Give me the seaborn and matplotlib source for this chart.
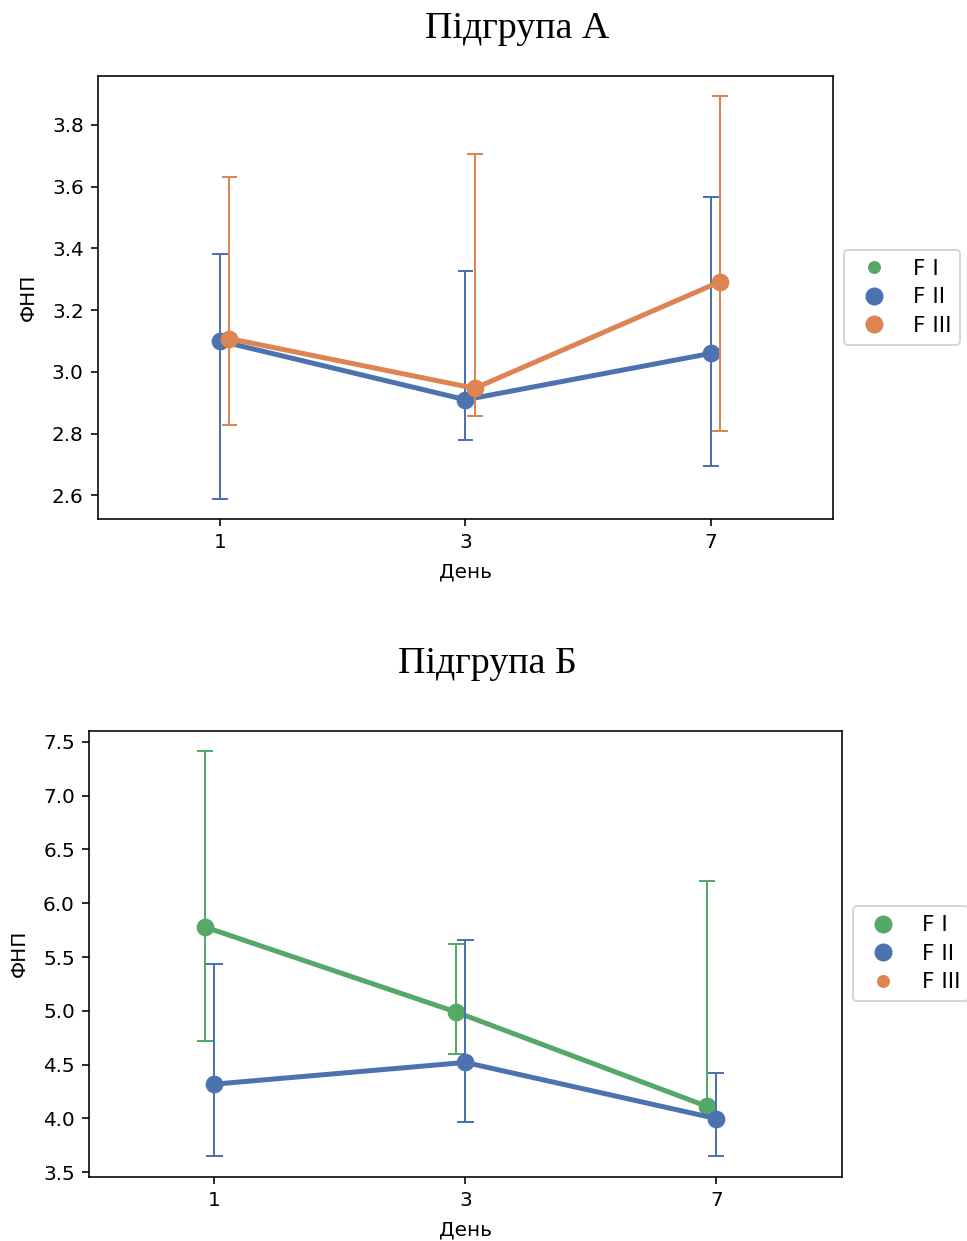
import numpy as np
import pandas as pd
import matplotlib
matplotlib.use("Agg")
import matplotlib.pyplot as plt
from matplotlib.lines import Line2D
import seaborn as sns

# ---- data ----
days = ["1", "3", "7"]
hue_levels = ["F I", "F II", "F III"]

# Підгрупа А
a_f2_mean = [3.10, 2.91, 3.06]
a_f2_low = [2.59, 2.78, 2.695]
a_f2_high = [3.383, 3.326, 3.567]
a_f3_mean = [3.108, 2.947, 3.292]
a_f3_low = [2.828, 2.856, 2.81]
a_f3_high = [3.632, 3.705, 3.893]

# Підгрупа Б
b_f1_mean = [5.779, 4.989, 4.112]
b_f1_low = [4.719, 4.60, 4.08]
b_f1_high = [7.416, 5.617, 6.204]
b_f2_mean = [4.318, 4.52, 3.998]
b_f2_low = [3.653, 3.966, 3.646]
b_f2_high = [5.434, 5.657, 4.418]

colors = {"F I": "#55A868", "F II": "#4C72B0", "F III": "#DD8452"}

titles = ["Підгрупа А", "Підгрупа Б"]
xlabel = "День"
ylabel = "ФНП"


def long_frame(series):
    rows = []
    for name, mean, low, high in series:
        for d, m, lo, hi in zip(days, mean, low, high):
            for v in (lo, m, hi):
                rows.append({"День": d, "ФНП": v, "F": name})
    return pd.DataFrame(rows)


df_a = long_frame([("F II", a_f2_mean, a_f2_low, a_f2_high),
                   ("F III", a_f3_mean, a_f3_low, a_f3_high)])
df_b = long_frame([("F I", b_f1_mean, b_f1_low, b_f1_high),
                   ("F II", b_f2_mean, b_f2_low, b_f2_high)])

W, H = 967, 1241
dpi = 144
fig = plt.figure(figsize=(W / dpi, H / dpi), dpi=dpi)

ax_a = fig.add_axes([97.7 / W, 1 - 518.7 / H, 735.6 / W, 442.7 / H])
ax_b = fig.add_axes([89.0 / W, 1 - 1176.7 / H, 752.7 / W, 446.0 / H])

for ax, df, present in [(ax_a, df_a, ["F II", "F III"]),
                        (ax_b, df_b, ["F I", "F II"])]:
    sns.pointplot(data=df, x="День", y="ФНП", hue="F", order=days,
                  hue_order=hue_levels, palette=colors,
                  estimator="median", errorbar=("pi", 100),
                  dodge=True, capsize=0.057,
                  err_kws={"linewidth": 1.0},
                  markersize=7, linewidth=2.5,
                  legend=False, ax=ax)
    ax.set_xlabel(xlabel, fontsize=10, labelpad=5.5)
    ax.set_ylabel(ylabel, fontsize=10, labelpad=7)
    handles = []
    for lvl in hue_levels:
        ms = 8 if lvl in present else 5.5
        handles.append(Line2D([], [], linestyle="none", marker="o",
                              markersize=ms, color=colors[lvl]))
    ax.legend(handles, hue_levels, loc="center left", bbox_to_anchor=(1, 0.5),
              fontsize=10.8, labelspacing=0.4)

fig.text(517.5 / W, 1 - 38.3 / H, titles[0], ha="center", va="baseline",
         fontsize=19, family="Liberation Serif")
fig.text(487.8 / W, 1 - 672.7 / H, titles[1], ha="center", va="baseline",
         fontsize=19, family="Liberation Serif")

fig.savefig("out.png", dpi=dpi)
